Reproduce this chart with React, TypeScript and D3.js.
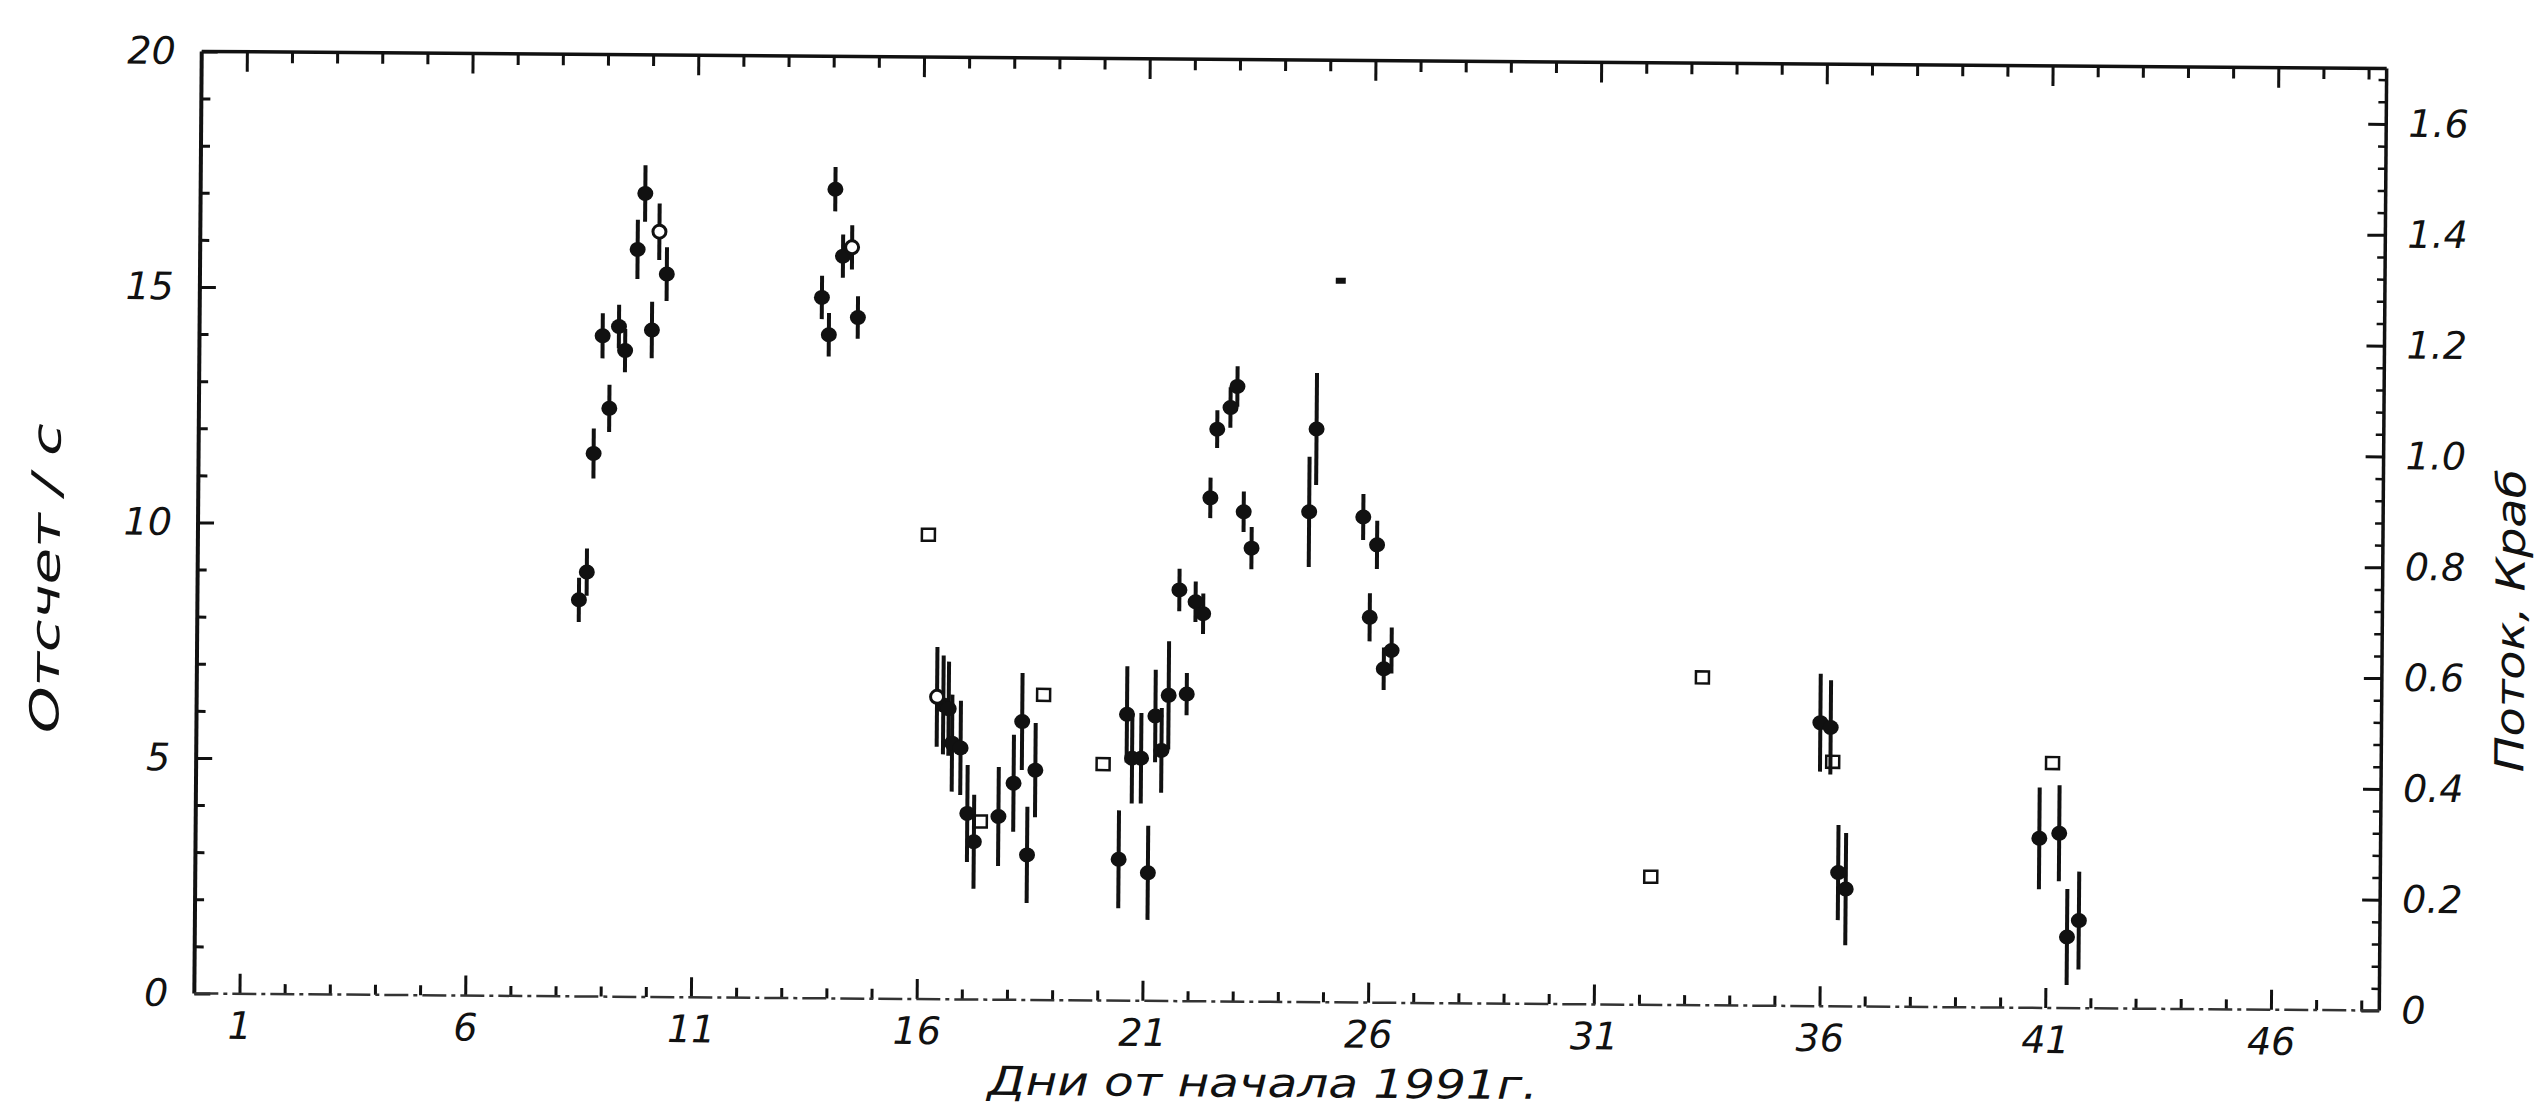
import React, { useEffect, useRef } from 'react';
import * as d3 from 'd3';

// filled points with error bars
const filledDays = [
  8.45, 8.62, 8.75, 8.93, 9.09, 9.29, 9.43, 9.69, 9.85, 10.02, 10.34,
  13.78, 13.94, 14.06, 14.24, 14.58,
  16.54, 16.66, 16.74, 16.93, 17.09, 17.24, 17.78, 18.11, 18.29, 18.42, 18.59,
  20.45, 20.61, 20.73, 20.93, 21.10, 21.24, 21.38, 21.53, 21.75, 21.93, 22.11, 22.28,
  22.42, 22.56, 22.85, 23.00, 23.16, 23.34, 24.61, 24.76, 25.81, 25.97, 26.12, 26.29, 26.46,
  35.97, 36.20, 36.39, 36.56,
  40.84, 41.28, 41.47, 41.73,
];
const filledCounts = [
  8.42, 9.01, 11.53, 14.03, 12.49, 14.23, 13.72, 15.87, 17.06, 14.16, 15.35,
  14.88, 14.09, 17.18, 15.76, 14.46,
  6.25, 6.17, 5.44, 5.34, 3.95, 3.35, 3.89, 4.60, 5.91, 3.08, 4.88,
  3.00, 6.08, 5.15, 5.15, 2.72, 6.05, 5.32, 6.49, 8.73, 6.52, 8.48, 8.23,
  10.69, 12.15, 12.61, 13.06, 10.40, 9.63, 10.41, 12.17, 10.31, 8.18, 9.72, 7.09, 7.48,
  6.02, 5.92, 2.84, 2.49,
  3.60, 3.71, 1.51, 1.86,
];
const filledErrors = [
  0.47, 0.50, 0.53, 0.48, 0.50, 0.46, 0.46, 0.63, 0.60, 0.60, 0.57,
  0.46, 0.46, 0.47, 0.46, 0.45,
  1.05, 1.00, 1.03, 1.00, 1.03, 1.00, 1.05, 1.03, 1.03, 1.02, 1.00,
  1.04, 1.02, 0.96, 0.96, 1.00, 0.98, 0.90, 1.15, 0.45, 0.45, 0.43, 0.43,
  0.43, 0.40, 0.43, 0.43, 0.43, 0.45, 1.17, 1.19, 0.49, 0.51, 0.51, 0.45, 0.49,
  1.04, 1.00, 1.01, 1.19,
  1.08, 1.02, 1.02, 1.04,
];

// open circles with error bars
const openDays = [10.17, 14.44, 16.40];
const openCounts = [16.25, 15.95, 6.42];
const openErrors = [0.60, 0.47, 1.06];

// open squares, no error bars
const squareDays = [16.18, 17.38, 18.76, 20.09, 32.24, 33.35, 36.25, 41.12];
const squareCounts = [9.86, 3.78, 6.48, 5.02, 2.72, 6.96, 5.19, 5.20];

// small filled mark
const markDays = [25.27];
const markCounts = [15.32];

const dayTicks = [1, 6, 11, 16, 21, 26, 31, 36, 41, 46];
const countTicks = [0, 5, 10, 15, 20];
const fluxTicks = [0, 0.2, 0.4, 0.6, 0.8, 1.0, 1.2, 1.4, 1.6];
const fluxTickLabels = ['0', '0.2', '0.4', '0.6', '0.8', '1.0', '1.2', '1.4', '1.6'];

const W = 2546;
const H = 1110;
const INK = '#111';
const FONT = '"DejaVu Sans", Verdana, sans-serif';

const App: React.FC = () => {
  const svgRef = useRef<SVGSVGElement>(null);

  useEffect(() => {
    if (!svgRef.current) return;
    const svg = d3.select(svgRef.current);
    svg.selectAll('*').remove();

    const left = 198, right = 2383, top = 60, bottom = 1002;

    const x = d3.scaleLinear().domain([0, 48.4]).range([left, right]);
    const y = d3.scaleLinear().domain([0, 20]).range([bottom, top]);
    const yFlux = d3.scaleLinear().domain([0, 1.7]).range([bottom, top]);

    // the scanned figure is slightly tilted
    const g = svg.append('g').attr('transform', 'rotate(0.45 1290 531)');

    const minorDays = d3.range(1, 49).filter(d => !dayTicks.includes(d));
    const minorCounts = d3.range(0, 21).filter(d => d % 5 !== 0);
    const minorFlux = d3.range(0, 43).filter(i => i % 5 !== 0).map(i => i * 0.04);

    const styleAxis = (sel: d3.Selection<SVGGElement, unknown, null, undefined>, w: number) => {
      sel.select('.domain').remove();
      sel.attr('font-family', FONT).attr('font-size', 38).attr('font-style', 'italic').style('color', INK);
      sel.selectAll('line').attr('stroke-width', w);
      sel.selectAll('text').attr('fill', INK);
    };

    // bottom
    g.append('g').attr('transform', `translate(0,${bottom})`)
      .call(d3.axisBottom(x).tickValues(dayTicks).tickSize(-20).tickPadding(18).tickFormat(d3.format('d')))
      .call(s => styleAxis(s, 3));
    g.append('g').attr('transform', `translate(0,${bottom})`)
      .call(d3.axisBottom(x).tickValues(minorDays).tickSize(-10).tickFormat(() => ''))
      .call(s => styleAxis(s, 3));

    // top
    g.append('g').attr('transform', `translate(0,${top})`)
      .call(d3.axisTop(x).tickValues(dayTicks).tickSize(-20).tickFormat(() => ''))
      .call(s => styleAxis(s, 3));
    g.append('g').attr('transform', `translate(0,${top})`)
      .call(d3.axisTop(x).tickValues(minorDays).tickSize(-11).tickFormat(() => ''))
      .call(s => styleAxis(s, 3));

    // left
    g.append('g').attr('transform', `translate(${left},0)`)
      .call(d3.axisLeft(y).tickValues(countTicks).tickSize(-16).tickPadding(26).tickFormat(d3.format('d')))
      .call(s => styleAxis(s, 3));
    g.append('g').attr('transform', `translate(${left},0)`)
      .call(d3.axisLeft(y).tickValues(minorCounts).tickSize(-9).tickFormat(() => ''))
      .call(s => styleAxis(s, 3));

    // right
    g.append('g').attr('transform', `translate(${right},0)`)
      .call(d3.axisRight(yFlux).tickValues(fluxTicks).tickSize(-18).tickPadding(22)
        .tickFormat((_, i) => fluxTickLabels[i]))
      .call(s => styleAxis(s, 3));
    g.append('g').attr('transform', `translate(${right},0)`)
      .call(d3.axisRight(yFlux).tickValues(minorFlux).tickSize(-8).tickFormat(() => ''))
      .call(s => styleAxis(s, 2.5));

    // frame
    g.append('line').attr('x1', left).attr('x2', left).attr('y1', top).attr('y2', bottom)
      .attr('stroke', INK).attr('stroke-width', 4);
    g.append('line').attr('x1', right).attr('x2', right).attr('y1', top).attr('y2', bottom)
      .attr('stroke', INK).attr('stroke-width', 3.5);
    g.append('line').attr('x1', left).attr('x2', right).attr('y1', top).attr('y2', top)
      .attr('stroke', INK).attr('stroke-width', 3.5);
    g.append('line').attr('x1', left).attr('x2', right).attr('y1', bottom).attr('y2', bottom)
      .attr('stroke', '#333').attr('stroke-width', 2.5).attr('stroke-dasharray', '24 5 4 5');

    // error bars
    const filled = filledDays.map((d, i) => ({ day: d, c: filledCounts[i], e: filledErrors[i] }));
    const open = openDays.map((d, i) => ({ day: d, c: openCounts[i], e: openErrors[i] }));

    g.selectAll('.err')
      .data([...filled, ...open])
      .enter()
      .append('line')
      .attr('class', 'err')
      .attr('x1', d => x(d.day)).attr('x2', d => x(d.day))
      .attr('y1', d => y(d.c - d.e)).attr('y2', d => y(d.c + d.e))
      .attr('stroke', INK).attr('stroke-width', 4);

    g.selectAll('.pt')
      .data(filled)
      .enter()
      .append('ellipse')
      .attr('class', 'pt')
      .attr('cx', d => x(d.day)).attr('cy', d => y(d.c))
      .attr('rx', 8).attr('ry', 7.5)
      .attr('fill', INK);

    g.selectAll('.opt')
      .data(open)
      .enter()
      .append('circle')
      .attr('class', 'opt')
      .attr('cx', d => x(d.day)).attr('cy', d => y(d.c))
      .attr('r', 6.5)
      .attr('fill', '#fff').attr('stroke', INK).attr('stroke-width', 3);

    g.selectAll('.sq')
      .data(squareDays.map((d, i) => ({ day: d, c: squareCounts[i] })))
      .enter()
      .append('rect')
      .attr('class', 'sq')
      .attr('x', d => x(d.day) - 6.5).attr('y', d => y(d.c) - 6)
      .attr('width', 13).attr('height', 12)
      .attr('fill', 'none').attr('stroke', INK).attr('stroke-width', 2.5);

    g.selectAll('.mark')
      .data(markDays.map((d, i) => ({ day: d, c: markCounts[i] })))
      .enter()
      .append('rect')
      .attr('class', 'mark')
      .attr('x', d => x(d.day) - 5).attr('y', d => y(d.c) - 3)
      .attr('width', 10).attr('height', 6)
      .attr('fill', INK);

    // titles
    g.append('text')
      .attr('x', 1267).attr('y', 1083)
      .attr('text-anchor', 'middle').attr('dominant-baseline', 'central')
      .attr('font-family', FONT).attr('font-size', 40).attr('font-style', 'italic')
      .attr('textLength', 550).attr('lengthAdjust', 'spacingAndGlyphs')
      .attr('fill', INK)
      .text('Дни  от  начала  1991г.');

    g.append('text')
      .attr('transform', 'translate(46,588) rotate(-90)')
      .attr('text-anchor', 'middle').attr('dominant-baseline', 'central')
      .attr('font-family', FONT).attr('font-size', 40).attr('font-style', 'italic')
      .attr('textLength', 310).attr('lengthAdjust', 'spacingAndGlyphs')
      .attr('fill', INK)
      .text('Отсчет / с');

    g.append('text')
      .attr('transform', 'translate(2511,611) rotate(-90)')
      .attr('text-anchor', 'middle').attr('dominant-baseline', 'central')
      .attr('font-family', FONT).attr('font-size', 40).attr('font-style', 'italic')
      .attr('textLength', 303).attr('lengthAdjust', 'spacingAndGlyphs')
      .attr('fill', INK)
      .text('Поток, Краб');
  }, []);

  return (
    <svg
      ref={svgRef}
      width={W}
      height={H}
      style={{ position: 'absolute', left: 0, top: 0, background: '#fff', display: 'block' }}
    />
  );
};

export default App;
